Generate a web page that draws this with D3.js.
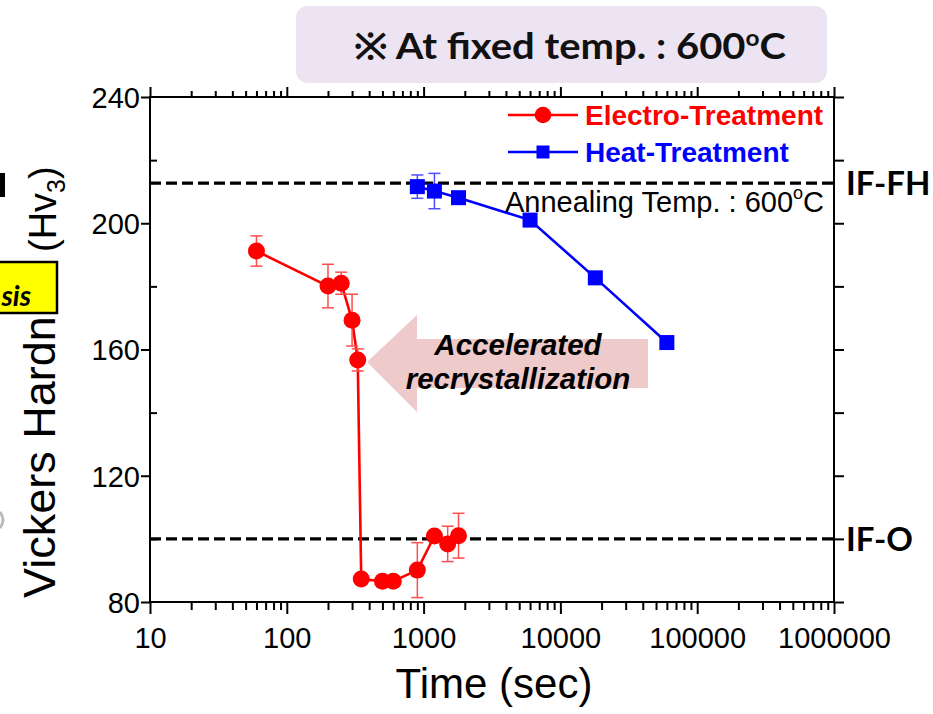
<!DOCTYPE html>
<html>
<head>
<meta charset="utf-8">
<script src="https://cdn.jsdelivr.net/npm/d3@7"></script>
<style>
  body { margin: 0; background: #fff; }
  svg { display: block; }
</style>
</head>
<body>
<svg></svg>
<script>
// Data
const electroTime = [60, 200, 250, 300, 330, 350, 500, 600, 900, 1200, 1500, 1800];
const electroHv   = [191.2, 180.1, 181.0, 169.3, 156.7, 87.3, 86.6, 86.6, 90.1, 100.9, 98.4, 101.0];
const electroErr  = [4.8, 6.9, 3.5, 8.2, 3.5, 0, 0, 0, 8.7, 0, 5.6, 7.1];

const heatTime = [900, 1200, 1800, 6000, 18000, 60000];
const heatHv   = [211.6, 210.2, 208.1, 201.0, 182.7, 162.2];
const heatErr  = [3.7, 5.6, 0, 0, 1.2, 0];

const refLabels = ['IF-FH', 'IF-O'];
const refValues = [212.7, 100];

const xMajorTicks = [10, 100, 1000, 10000, 100000, 1000000];
const yMajorTicks = [80, 120, 160, 200, 240];
const yMinorTicks = [100, 140, 180, 220];

// Constants
const width = 933;
const height = 714;
const plotLeft = 150;
const plotRight = 834;
const plotTop = 97;
const plotBottom = 602;

const arial = "'Liberation Sans', Arial, sans-serif";
const calibri = "Lato, 'Open Sans', sans-serif";

const red = '#ff0000';
const blue = '#0000ff';

const svg = d3.select('svg')
    .attr('width', width)
    .attr('height', height);

// scales
const x = d3.scaleLog()
    .domain([10, 1000000])
    .range([plotLeft, plotRight]);

const y = d3.scaleLinear()
    .domain([80, 240])
    .range([plotBottom, plotTop]);

const xMinorTicks = x.ticks().filter(d => !xMajorTicks.some(m => Math.abs(m - d) < 1e-6));

// title box
svg.append('rect')
    .attr('x', 296)
    .attr('y', 6)
    .attr('width', 531)
    .attr('height', 77)
    .attr('rx', 12)
    .attr('fill', '#ece4f2');

const title = svg.append('text')
    .attr('x', 354)
    .attr('y', 59)
    .attr('textLength', 432)
    .attr('lengthAdjust', 'spacingAndGlyphs')
    .attr('font-family', calibri)
    .attr('font-weight', 'bold')
    .attr('font-size', 36)
    .attr('fill', '#111');
title.append('tspan').text('※ At fixed temp. : 600');
title.append('tspan').attr('font-size', 22).attr('dy', -13).text('o');
title.append('tspan').attr('dy', 13).text('C');

// cropped bits at the left edge
svg.append('rect')
    .attr('x', 0).attr('y', 173)
    .attr('width', 5).attr('height', 24)
    .attr('fill', '#000');

svg.append('path')
    .attr('d', 'M0,512 Q6,520 0,528')
    .attr('fill', 'none')
    .attr('stroke', '#bbb')
    .attr('stroke-width', 3);

// y label
svg.append('text')
    .attr('transform', 'translate(55, 598) rotate(-90)')
    .attr('font-family', arial)
    .attr('font-size', 45)
    .attr('fill', '#000')
    .text('Vickers Hardn');

const yLabel2 = svg.append('text')
    .attr('transform', 'translate(56, 252) rotate(-90)')
    .attr('font-family', arial)
    .attr('font-size', 38)
    .attr('fill', '#000');
yLabel2.append('tspan').text('(Hv');
yLabel2.append('tspan').attr('font-size', 25).attr('dy', 9).text('3');
yLabel2.append('tspan').attr('dy', -9).text(')');

// yellow box
svg.append('rect')
    .attr('x', -3)
    .attr('y', 262)
    .attr('width', 60)
    .attr('height', 51)
    .attr('fill', '#ffff00')
    .attr('stroke', '#000')
    .attr('stroke-width', 2.5);

svg.append('text')
    .attr('x', 31)
    .attr('y', 306)
    .attr('text-anchor', 'end')
    .attr('font-family', calibri)
    .attr('font-weight', 'bold')
    .attr('font-style', 'italic')
    .attr('font-size', 28)
    .attr('fill', '#000')
    .text('sis');

// arrow
svg.append('path')
    .attr('d', 'M367,362 L417,315 L417,339 L648,339 L648,388 L417,388 L417,412 Z')
    .attr('fill', '#eecaca');

svg.selectAll('.arrow-text')
    .data(['Accelerated', 'recrystallization'])
    .enter().append('text')
    .attr('class', 'arrow-text')
    .attr('x', 518)
    .attr('y', (d, i) => 355 + i * 34)
    .attr('text-anchor', 'middle')
    .attr('font-family', arial)
    .attr('font-weight', 'bold')
    .attr('font-style', 'italic')
    .attr('font-size', 29.5)
    .attr('fill', '#000')
    .text(d => d);

// reference dashed lines
svg.selectAll('.ref-line')
    .data(refValues).enter()
    .append('line')
    .attr('class', 'ref-line')
    .attr('x1', plotLeft)
    .attr('x2', plotRight)
    .attr('y1', d => y(d))
    .attr('y2', d => y(d))
    .attr('stroke', '#000')
    .attr('stroke-width', 3.2)
    .attr('stroke-dasharray', '11,5');

svg.selectAll('.ref-label')
    .data(refLabels).enter()
    .append('text')
    .attr('class', 'ref-label')
    .attr('x', 846)
    .attr('y', (d, i) => y(refValues[i]) + 12)
    .attr('font-family', calibri)
    .attr('font-weight', 'bold')
    .attr('font-size', 33)
    .attr('fill', '#000')
    .text(d => d);

// series
const electro = electroTime.map((t, i) => ({ t, v: electroHv[i], e: electroErr[i] }));
const heat = heatTime.map((t, i) => ({ t, v: heatHv[i], e: heatErr[i] }));

const line = d3.line()
    .x(d => x(d.t))
    .y(d => y(d.v));

function drawSeries(data, color, errColor, shape) {
    svg.append('path')
        .datum(data)
        .attr('d', line)
        .attr('fill', 'none')
        .attr('stroke', color)
        .attr('stroke-width', 2.6);

    const bars = svg.append('g')
        .attr('stroke', errColor)
        .attr('stroke-width', 1.5)
        .selectAll('g')
        .data(data.filter(d => d.e > 0)).enter()
        .append('g');

    bars.append('line')
        .attr('x1', d => x(d.t)).attr('x2', d => x(d.t))
        .attr('y1', d => y(d.v + d.e)).attr('y2', d => y(d.v - d.e));
    bars.append('line')
        .attr('x1', d => x(d.t) - 6).attr('x2', d => x(d.t) + 6)
        .attr('y1', d => y(d.v + d.e)).attr('y2', d => y(d.v + d.e));
    bars.append('line')
        .attr('x1', d => x(d.t) - 6).attr('x2', d => x(d.t) + 6)
        .attr('y1', d => y(d.v - d.e)).attr('y2', d => y(d.v - d.e));

    if (shape === 'circle') {
        svg.selectAll(null)
            .data(data).enter()
            .append('circle')
            .attr('cx', d => x(d.t))
            .attr('cy', d => y(d.v))
            .attr('r', 8.5)
            .attr('fill', color);
    } else {
        svg.selectAll(null)
            .data(data).enter()
            .append('rect')
            .attr('x', d => x(d.t) - 7.5)
            .attr('y', d => y(d.v) - 7.5)
            .attr('width', 15)
            .attr('height', 15)
            .attr('fill', color);
    }
}

drawSeries(heat, blue, '#4d4dff', 'square');
drawSeries(electro, red, '#ff4d4d', 'circle');

// annotation
const anneal = svg.append('text')
    .attr('x', 505)
    .attr('y', 212)
    .attr('font-family', arial)
    .attr('font-size', 29)
    .attr('fill', '#000');
anneal.append('tspan').text('Annealing Temp. : 600');
anneal.append('tspan').attr('font-size', 18).attr('dy', -13).text('o');
anneal.append('tspan').attr('dy', 13).text('C');

// legend
const legendItems = [
    { name: 'Electro-Treatment', color: red, shape: 'circle' },
    { name: 'Heat-Treatment', color: blue, shape: 'square' }
];

const legend = svg.append('g')
    .attr('transform', 'translate(508, 115)');

const legendRows = legend.selectAll('g')
    .data(legendItems).enter()
    .append('g')
    .attr('transform', (d, i) => `translate(0, ${i * 37})`);

legendRows.append('line')
    .attr('x1', 0).attr('x2', 70)
    .attr('stroke', d => d.color)
    .attr('stroke-width', 2.5);

legendRows.filter(d => d.shape === 'circle')
    .append('circle')
    .attr('cx', 35)
    .attr('r', 8.3)
    .attr('fill', d => d.color);

legendRows.filter(d => d.shape === 'square')
    .append('rect')
    .attr('x', 28.5).attr('y', -6.5)
    .attr('width', 13).attr('height', 13)
    .attr('fill', d => d.color);

legendRows.append('text')
    .attr('x', 77)
    .attr('y', 10)
    .attr('font-family', arial)
    .attr('font-weight', 'bold')
    .attr('font-size', 28)
    .attr('fill', d => d.color)
    .text(d => d.name);

// axes
function styleAxis(g) {
    g.select('.domain').remove();
    g.selectAll('line').attr('stroke', '#000').attr('stroke-width', 2);
}

svg.append('g')
    .attr('transform', `translate(0, ${plotBottom})`)
    .call(d3.axisBottom(x).tickValues(xMinorTicks).tickSize(8).tickFormat(''))
    .call(styleAxis);

const xAxisG = svg.append('g')
    .attr('transform', `translate(0, ${plotBottom})`)
    .call(d3.axisBottom(x).tickValues(xMajorTicks).tickSize(12).tickFormat(d3.format('d')))
    .call(styleAxis);

xAxisG.selectAll('text')
    .attr('y', 46)
    .attr('dy', null)
    .attr('font-family', arial)
    .attr('font-size', 29)
    .attr('fill', '#000');

svg.append('g')
    .attr('transform', `translate(0, ${plotTop})`)
    .call(d3.axisTop(x).tickValues(xMinorTicks).tickSize(6).tickFormat(''))
    .call(styleAxis);

svg.append('g')
    .attr('transform', `translate(0, ${plotTop})`)
    .call(d3.axisTop(x).tickValues(xMajorTicks).tickSize(10).tickFormat(''))
    .call(styleAxis);

const yAxisG = svg.append('g')
    .attr('transform', `translate(${plotLeft}, 0)`)
    .call(d3.axisLeft(y).tickValues(yMajorTicks).tickSize(9).tickPadding(1))
    .call(styleAxis);

yAxisG.selectAll('text')
    .attr('dy', '0.36em')
    .attr('font-family', arial)
    .attr('font-size', 29)
    .attr('fill', '#000');

svg.append('g')
    .attr('transform', `translate(${plotLeft}, 0)`)
    .call(d3.axisRight(y).tickValues(yMinorTicks).tickSize(7).tickFormat(''))
    .call(styleAxis);

svg.append('g')
    .attr('transform', `translate(${plotRight}, 0)`)
    .call(d3.axisRight(y).tickValues(yMajorTicks.concat(yMinorTicks)).tickSize(10).tickFormat(''))
    .call(styleAxis);

// frame
svg.append('rect')
    .attr('x', plotLeft)
    .attr('y', plotTop)
    .attr('width', plotRight - plotLeft)
    .attr('height', plotBottom - plotTop)
    .attr('fill', 'none')
    .attr('stroke', '#000')
    .attr('stroke-width', 2);

// x label
svg.append('text')
    .attr('x', 494)
    .attr('y', 698)
    .attr('text-anchor', 'middle')
    .attr('font-family', arial)
    .attr('font-size', 42)
    .attr('fill', '#000')
    .text('Time (sec)');
</script>
</body>
</html>
